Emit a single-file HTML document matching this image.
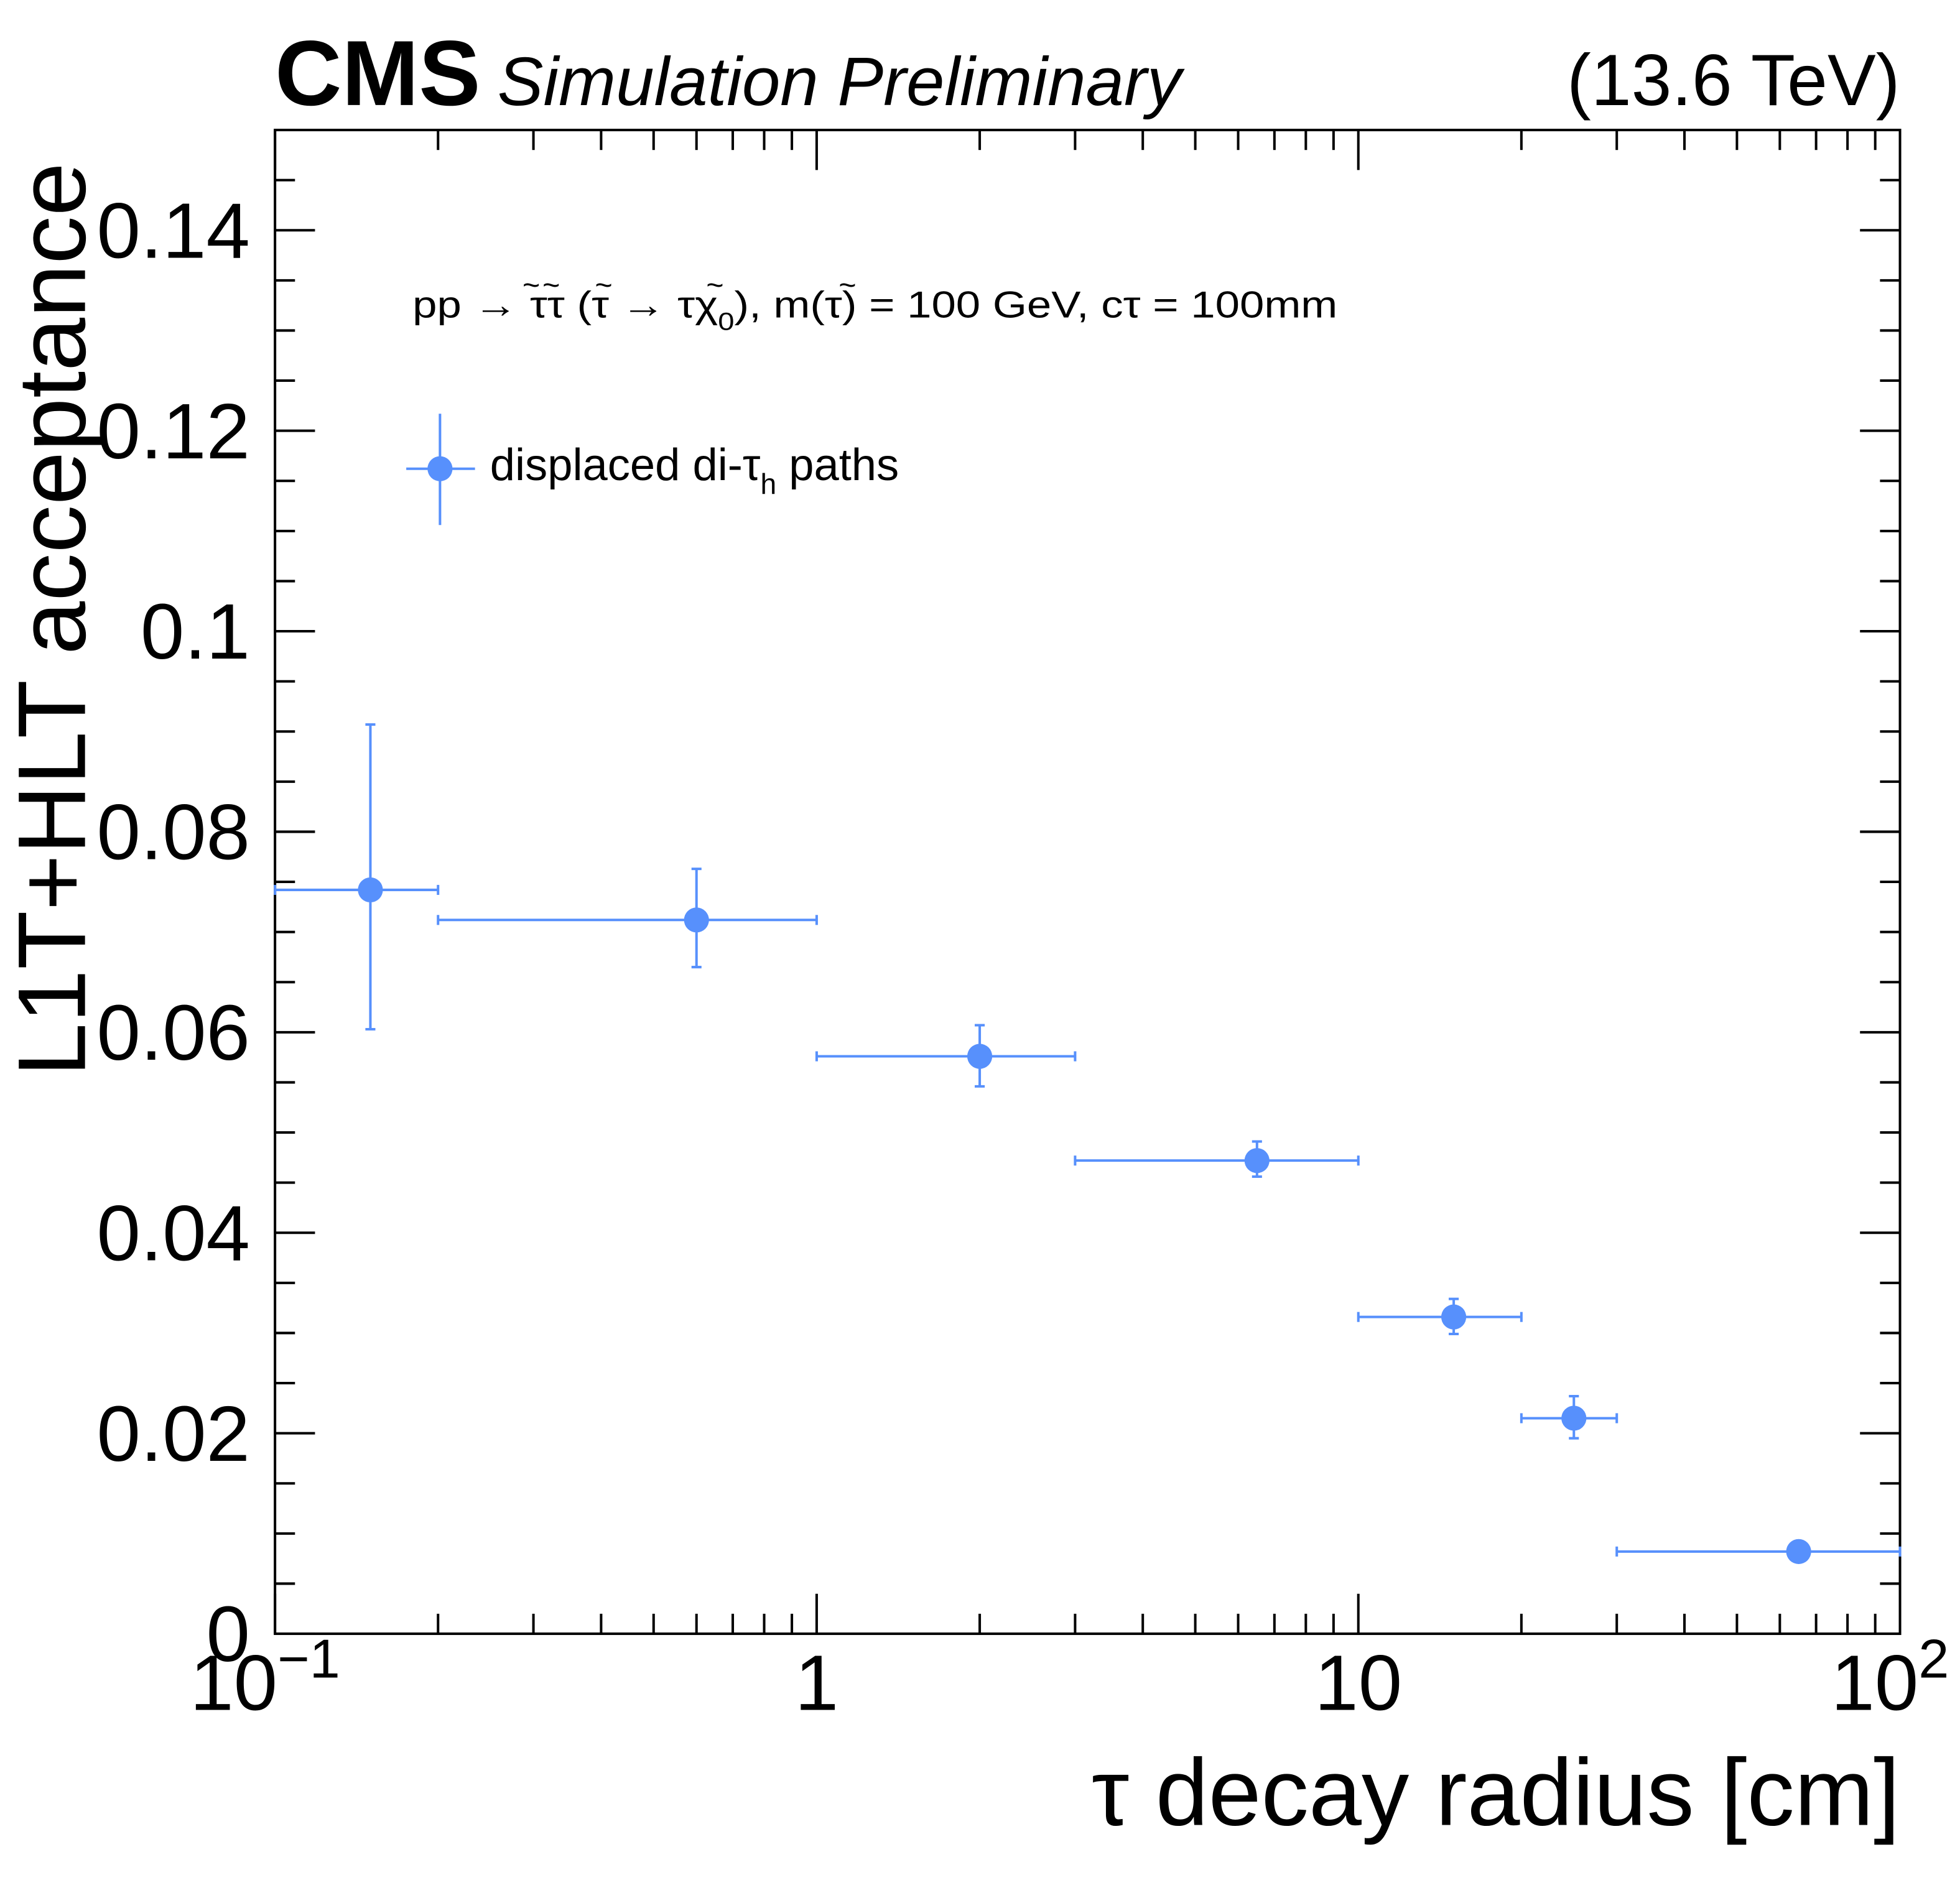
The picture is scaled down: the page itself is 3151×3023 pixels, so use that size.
<!DOCTYPE html>
<html><head><meta charset="utf-8"><style>
html,body{margin:0;padding:0;background:#fff;}
svg{display:block;font-family:"Liberation Sans",Arial,sans-serif;}
</style></head><body>
<svg id="chart" width="3151" height="3023" viewBox="0 0 1568 1504" preserveAspectRatio="none" xmlns="http://www.w3.org/2000/svg">
<rect width="1568" height="1504" fill="#fff"/>
<g id="axes"></g>
<g id="marks"></g>
<text x="220" y="84" font-size="74" font-weight="bold">CMS</text>
<text x="398" y="84" font-size="55" font-style="italic">Simulation Preliminary</text>
<text x="1520" y="84" font-size="58" text-anchor="end">(13.6 TeV)</text>
<g>
<text x="330" y="254" font-size="30" textLength="740" lengthAdjust="spacingAndGlyphs">pp → ττ (τ → τχ<tspan font-size="20" dy="10">0</tspan><tspan dy="-10">), m(τ) = 100 GeV, cτ = 100mm</tspan></text>
<text x="425" y="236" font-size="24" text-anchor="middle">~</text>
<text x="441" y="236" font-size="24" text-anchor="middle">~</text>
<text x="483" y="236" font-size="24" text-anchor="middle">~</text>
<text x="572" y="236" font-size="24" text-anchor="middle">~</text>
<text x="678" y="236" font-size="24" text-anchor="middle">~</text>
</g>
<g>
<line x1="352" y1="331" x2="352" y2="420" stroke="#5790fc" stroke-width="2"/>
<line x1="325" y1="375" x2="380" y2="375" stroke="#5790fc" stroke-width="2"/>
<circle cx="352" cy="375" r="10" fill="#5790fc"/>
<text x="392" y="384" font-size="36">displaced di-τ<tspan font-size="23" dy="11">h</tspan><tspan dy="-11"> paths</tspan></text>
</g>
<text x="1520" y="1460" font-size="76" text-anchor="end">τ decay radius [cm]</text>
<text transform="translate(68,130) rotate(-90)" font-size="77" text-anchor="end">L1T+HLT acceptance</text>
<script>
const binLow=[0.1,0.2,1,3,10,20,30];
const binHigh=[0.2,1,3,10,20,30,100];
const xCenter=[0.15,0.6,2,6.5,15,25,65];
const yValue=[0.0742,0.0712,0.0576,0.0472,0.0316,0.0215,0.0082];
const yErrUp=[0.0165,0.0051,0.0031,0.0019,0.0018,0.0022,0.0007];
const yErrDown=[0.0139,0.0047,0.0030,0.0016,0.0017,0.0020,0.0007];
const yTicks=[0,0.02,0.04,0.06,0.08,0.1,0.12,0.14];
const yTickLabels=["0","0.02","0.04","0.06","0.08","0.1","0.12","0.14"];
const L=220,R=1520,T=104,B=1307,YMAX=0.15;
const xs=v=>L+(Math.log10(v)+1)/3*(R-L);
const ys=v=>B-v/YMAX*(B-T);
const NS="http://www.w3.org/2000/svg";
const axes=document.getElementById('axes'),marks=document.getElementById('marks');
function mk(tag,attrs,parent){const e=document.createElementNS(NS,tag);for(const k in attrs)e.setAttribute(k,attrs[k]);parent.appendChild(e);return e;}
const frame=mk('rect',{x:L,y:T,width:R-L,height:B-T,fill:'none',stroke:'#000','stroke-width':2},axes);


for(let v=0;v<=YMAX+1e-9;v+=0.005){const y=ys(v);const major=Math.abs(v/0.02-Math.round(v/0.02))<1e-6;const len=major?32:16;
mk('line',{x1:L,y1:y,x2:L+len,y2:y,stroke:'#000','stroke-width':2},axes);
mk('line',{x1:R,y1:y,x2:R-len,y2:y,stroke:'#000','stroke-width':2},axes);}
yTicks.forEach((v,i)=>{const t=mk('text',{x:200,y:ys(v)+22,'font-size':63,'text-anchor':'end'},axes);t.textContent=yTickLabels[i];

});
for(let d=-1;d<2;d++){for(let m=1;m<10;m++){const v=m*Math.pow(10,d);const x=xs(v);const len=m===1?32:16;
mk('line',{x1:x,y1:B,x2:x,y2:B-len,stroke:'#000','stroke-width':2},axes);
mk('line',{x1:x,y1:T,x2:x,y2:T+len,stroke:'#000','stroke-width':2},axes);}}
const xl=[[0.1,'10','−1'],[1,'1',''],[10,'10',''],[100,'10','2']];
xl.forEach(([v,b,e])=>{const t=mk('text',{x:xs(v)+(e?-8:0),y:1368,'font-size':63,'text-anchor':'middle'},axes);t.textContent=b;
if(e){const s=mk('tspan',{'font-size':44,dy:-26},t);s.textContent=e;}

});
const c='#5790fc';
yValue.forEach((v,i)=>{const g=mk('g',{},marks);


const y=ys(v),x=xs(xCenter[i]),x1=xs(binLow[i]),x2=xs(binHigh[i]),yu=ys(v+yErrUp[i]),yd=ys(v-yErrDown[i]);
mk('line',{x1:x1,y1:y,x2:x2,y2:y,stroke:c,'stroke-width':2},g);
mk('line',{x1:x1,y1:y-4,x2:x1,y2:y+4,stroke:c,'stroke-width':2},g);
mk('line',{x1:x2,y1:y-4,x2:x2,y2:y+4,stroke:c,'stroke-width':2},g);
mk('line',{x1:x,y1:yu,x2:x,y2:yd,stroke:c,'stroke-width':2},g);
mk('line',{x1:x-4,y1:yu,x2:x+4,y2:yu,stroke:c,'stroke-width':2},g);
mk('line',{x1:x-4,y1:yd,x2:x+4,y2:yd,stroke:c,'stroke-width':2},g);
mk('circle',{cx:x,cy:y,r:10,fill:c},g);});
</script>
</svg>
</body></html>
